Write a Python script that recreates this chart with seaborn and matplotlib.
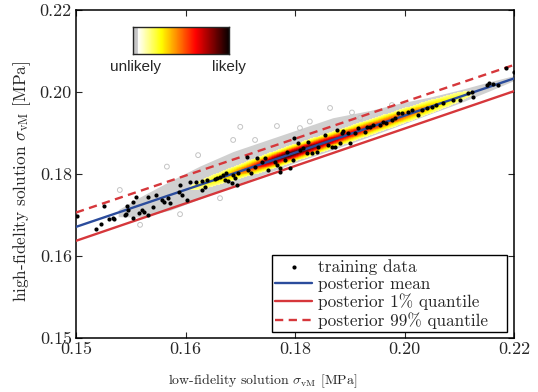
import numpy as np
import pandas as pd
import matplotlib
matplotlib.use('Agg')
import matplotlib.pyplot as plt
from matplotlib.colors import ListedColormap
import seaborn as sns

# ---------------------------------------------------------------
# datos
# ---------------------------------------------------------------
x_line = [0.14, 0.22]
post_mean = [0.1671, 0.2033]
post_q01 = [0.1637, 0.2002]
post_q99 = [0.1706, 0.2066]

train_x = [0.1401, 0.1437, 0.1446, 0.1451, 0.1460, 0.1467, 0.1469, 0.1489, 0.1491, 0.1493,
           0.1495, 0.1504, 0.1504, 0.1509, 0.1515, 0.1520, 0.1524, 0.1532, 0.1532, 0.1541,
           0.1547, 0.1557, 0.1561, 0.1568, 0.1572, 0.1588, 0.1590, 0.1593, 0.1603, 0.1608,
           0.1620, 0.1630, 0.1631, 0.1636, 0.1639, 0.1654, 0.1657, 0.1663, 0.1668, 0.1672,
           0.1678, 0.1684, 0.1674, 0.1687, 0.1690, 0.1694, 0.1696, 0.1712, 0.1714, 0.1719,
           0.1727, 0.1731, 0.1739, 0.1745, 0.1751, 0.1763, 0.1767, 0.1773, 0.1773, 0.1782,
           0.1785, 0.1791, 0.1796, 0.1798, 0.1805, 0.1809, 0.1815, 0.1821, 0.1824, 0.1831,
           0.1840, 0.1842, 0.1855, 0.1860, 0.1867, 0.1873, 0.1877, 0.1882, 0.1885, 0.1888,
           0.1897, 0.1900, 0.1910, 0.1915, 0.1928, 0.1931, 0.1937, 0.1942, 0.1955, 0.1961,
           0.1967, 0.1977, 0.1983, 0.1988, 0.1995, 0.2006, 0.2014, 0.2025, 0.2032, 0.2041,
           0.2050, 0.2058, 0.2070, 0.2089, 0.2101, 0.2116, 0.2123, 0.2125, 0.2150, 0.2154,
           0.2162, 0.2171, 0.2185, 0.2200]
train_y = [0.1698, 0.1666, 0.1678, 0.1722, 0.1690, 0.1693, 0.1689, 0.1700, 0.1702, 0.1722,
           0.1712, 0.1732, 0.1693, 0.1744, 0.1705, 0.1712, 0.1708, 0.1744, 0.1700, 0.1720,
           0.1749, 0.1737, 0.1732, 0.1741, 0.1729, 0.1757, 0.1773, 0.1749, 0.1737, 0.1781,
           0.1781, 0.1761, 0.1783, 0.1769, 0.1785, 0.1788, 0.1790, 0.1793, 0.1798, 0.1785,
           0.1784, 0.1778, 0.1803, 0.1798, 0.1790, 0.1773, 0.1802, 0.1842, 0.1810, 0.1802,
           0.1818, 0.1839, 0.1830, 0.1839, 0.1810, 0.1830, 0.1822, 0.1815, 0.1806, 0.1834,
           0.1854, 0.1815, 0.1834, 0.1888, 0.1876, 0.1859, 0.1863, 0.1851, 0.1879, 0.1851,
           0.1854, 0.1867, 0.1895, 0.1871, 0.1867, 0.1867, 0.1907, 0.1876, 0.1900, 0.1906,
           0.1900, 0.1876, 0.1900, 0.1912, 0.1903, 0.1915, 0.1915, 0.1920, 0.1920, 0.1928,
           0.1924, 0.1932, 0.1937, 0.1949, 0.1949, 0.1951, 0.1956, 0.1944, 0.1956, 0.1961,
           0.1963, 0.1968, 0.1974, 0.1980, 0.1980, 0.1998, 0.2001, 0.1988, 0.2017, 0.2022,
           0.2020, 0.2017, 0.2059, 0.2049]

# nube gris de muestras: bordes respecto de la media
cloud_x = [0.1477, 0.1517, 0.1572, 0.1626, 0.1687, 0.1754, 0.1809, 0.1869, 0.1937,
           0.1992, 0.2047, 0.2101, 0.2156, 0.2200]
cloud_up = [0.0007, 0.0020, 0.0034, 0.0046, 0.0054, 0.0054, 0.0054, 0.0054, 0.0041,
            0.0034, 0.0024, 0.0017, 0.0012, 0.0007]
cloud_lo = [0.0010, 0.0029, 0.0037, 0.0034, 0.0029, 0.0027, 0.0024, 0.0024, 0.0022,
            0.0020, 0.0017, 0.0015, 0.0010, 0.0005]
outl_x = [0.1566, 0.1687, 0.1623, 0.1767, 0.1809, 0.1827, 0.1904, 0.1977, 0.1663,
          0.1480, 0.1727, 0.1517, 0.1590, 0.1700, 0.1864, 0.1919]
outl_y = [0.1818, 0.1883, 0.1846, 0.1917, 0.1912, 0.1928, 0.1950, 0.1968, 0.1741,
          0.1761, 0.1883, 0.1676, 0.1702, 0.1915, 0.1961, 0.1937]

# densidad (cresta a lo largo de la media)
dens_x = [0.158, 0.161, 0.164, 0.167, 0.170, 0.173, 0.176, 0.179, 0.182, 0.185,
          0.188, 0.191, 0.194, 0.197, 0.200, 0.203, 0.206, 0.209, 0.212, 0.215]
dens_amp = [0.00, 0.12, 0.22, 0.32, 0.45, 0.62, 0.85, 0.95, 0.90, 0.80,
            0.72, 0.66, 0.60, 0.55, 0.50, 0.42, 0.32, 0.22, 0.13, 0.00]
dens_width = 0.00105

ticks = [0.14, 0.16, 0.18, 0.20, 0.22]
x_ticklabels = ['0.15', '0.16', '0.18', '0.20', '0.22']
y_ticklabels = ['0.15', '0.16', '0.18', '0.20', '0.22']

# ---------------------------------------------------------------
sns.set_style('ticks')
plt.rcParams['font.family'] = ['cmr10', 'DejaVu Serif']
plt.rcParams['mathtext.fontset'] = 'cm'
plt.rcParams['axes.unicode_minus'] = False

AZUL = '#2b4c9c'
ROJO = '#d6373b'

fig = plt.figure(figsize=(5.38, 3.92), dpi=100)
ax = fig.add_axes([0.1413, 0.1378, 0.8141, 0.8367])

# nube gris
cx = np.array(cloud_x)
cm_ = np.interp(cx, x_line, post_mean)
ax.fill_between(cx, cm_ - np.array(cloud_lo), cm_ + np.array(cloud_up),
                color='#d0d0d0', lw=0, zorder=1)
sns.scatterplot(x=outl_x, y=outl_y, ax=ax, s=12, facecolor='none',
                edgecolor='#c4c4c4', linewidth=0.7, zorder=1)

# densidad
gx = np.linspace(0.14, 0.22, 700)
gy = np.linspace(0.14, 0.22, 700)
GX, GY = np.meshgrid(gx, gy)
amp = np.interp(GX, dens_x, dens_amp)
mu = np.interp(GX, x_line, post_mean)
D = amp * np.exp(-0.5 * ((GY - mu) / dens_width) ** 2)
D = np.ma.masked_less(D, 0.1)
ax.imshow(D, extent=[0.14, 0.22, 0.14, 0.22], origin='lower', cmap='hot_r',
          vmin=0, vmax=1, aspect='auto', interpolation='nearest', zorder=2)

# lineas posteriores
df_l = pd.DataFrame({'x': x_line, 'mean': post_mean, 'q01': post_q01, 'q99': post_q99})
sns.lineplot(data=df_l, x='x', y='mean', ax=ax, color=AZUL, lw=1.7, zorder=3,
             label='posterior mean')
sns.lineplot(data=df_l, x='x', y='q01', ax=ax, color=ROJO, lw=1.7, zorder=3,
             label='posterior 1% quantile')
sns.lineplot(data=df_l, x='x', y='q99', ax=ax, color=ROJO, lw=1.7, zorder=3,
             linestyle=(0, (3.5, 2.3)), label='posterior 99% quantile')

# datos de entrenamiento
sns.scatterplot(x=train_x, y=train_y, ax=ax, color='k', s=9, linewidth=0, zorder=4,
                label='training data')

ax.set_xlim(0.14, 0.22)
ax.set_ylim(0.14, 0.22)
ax.set_xticks(ticks)
ax.set_xticklabels(x_ticklabels)
ax.set_yticks(ticks)
ax.set_yticklabels(y_ticklabels)
ax.tick_params(direction='in', length=4, width=0.8, top=True, right=True,
               labelsize=13, pad=3)
for sp in ax.spines.values():
    sp.set_linewidth(1.1)
    sp.set_color('k')

ax.set_xlabel(r'low-fidelity solution $\sigma_{\rm vM}$ [MPa]', fontsize=10)
ax.set_ylabel(r'high-fidelity solution $\sigma_{\rm vM}$ [MPa]', fontsize=12.4)
ax.xaxis.set_label_coords(0.427, -0.105)
ax.yaxis.set_label_coords(-0.098, 0.476)

h, l = ax.get_legend_handles_labels()
orden = ['training data', 'posterior mean', 'posterior 1% quantile', 'posterior 99% quantile']
hh = [h[l.index(o)] for o in orden]
leg = ax.legend(hh, orden, loc='lower left', bbox_to_anchor=(0.4475, 0.0183, 0.5365, 0.2317),
                mode='expand', borderaxespad=0, fontsize=12.4, frameon=True, fancybox=False,
                framealpha=1, edgecolor='k', handlelength=2.15, handletextpad=0.3,
                labelspacing=0.1, borderpad=0.2, markerscale=1.0)
leg.get_frame().set_linewidth(1.0)

# barra de colores
n_gris = 13
colores = np.vstack([np.tile([0.78, 0.78, 0.78, 1.0], (n_gris, 1)),
                     plt.get_cmap('hot_r')(np.linspace(0.0, 1.0, 256 - n_gris))])
bar_cmap = ListedColormap(colores)
cax = fig.add_axes([0.2472, 0.8622, 0.1784, 0.0689])
cax.imshow(np.linspace(0, 1, 256)[None, :], aspect='auto', cmap=bar_cmap)
cax.set_xticks([])
cax.set_yticks([])
for sp in cax.spines.values():
    sp.set_linewidth(1.0)
fig.text(0.251, 0.829, 'unlikely', ha='center', va='center', fontsize=11,
         family=['Liberation Sans', 'DejaVu Sans'])
fig.text(0.4257, 0.829, 'likely', ha='center', va='center', fontsize=11,
         family=['Liberation Sans', 'DejaVu Sans'])

fig.savefig('out.png', dpi=100)
